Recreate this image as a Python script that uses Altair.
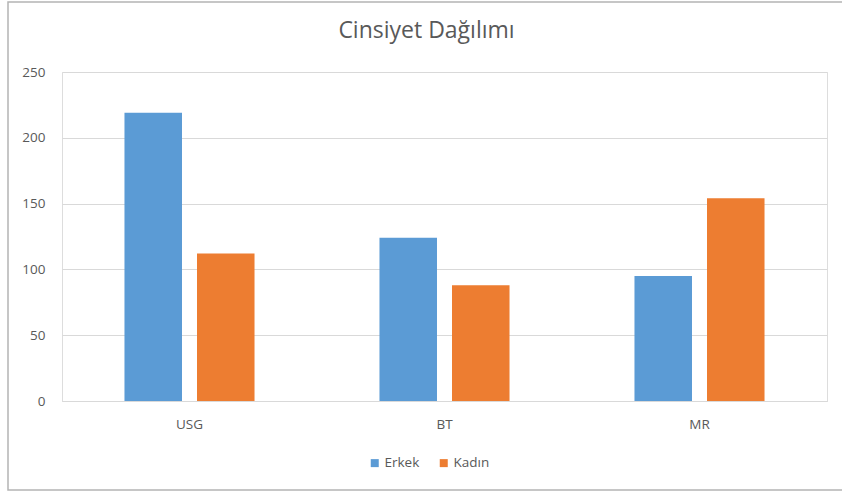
import altair as alt
import pandas as pd

# Cinsiyet dağılımı: her görüntüleme yöntemi için erkek / kadın hasta sayısı
categories = ["USG", "BT", "MR"]
groups = ["Erkek", "Kadın"]
erkek = [219, 124, 95]
kadin = [112, 88, 154]
colors = ["#5B9BD5", "#ED7D31"]
y_ticks = [0, 50, 100, 150, 200, 250]

rows = []
for cat, e, k in zip(categories, erkek, kadin):
    rows.append({"Yöntem": cat, "Cinsiyet": "Erkek", "Sayı": e})
    rows.append({"Yöntem": cat, "Cinsiyet": "Kadın", "Sayı": k})
df = pd.DataFrame(rows)

FONT = "Open Sans"
TEXT = "#595959"
GRID = "#d9d9d9"
LABEL_SIZE = 13.5

bars = alt.Chart(df).mark_bar().encode(
    x=alt.X(
        "Yöntem:N",
        sort=categories,
        title=None,
        scale=alt.Scale(paddingInner=0.49, paddingOuter=0.245),
        axis=alt.Axis(
            labelAngle=0,
            ticks=False,
            domain=True,
            domainColor=GRID,
            grid=False,
            labelPadding=16,
            labelFontSize=LABEL_SIZE,
            labelColor=TEXT,
            labelFont=FONT,
        ),
    ),
    xOffset=alt.XOffset(
        "Cinsiyet:N",
        sort=groups,
        scale=alt.Scale(paddingInner=0.207, paddingOuter=0),
    ),
    y=alt.Y(
        "Sayı:Q",
        title=None,
        scale=alt.Scale(domain=[0, 250], nice=False),
        axis=alt.Axis(
            values=y_ticks,
            ticks=False,
            domain=False,
            gridColor=GRID,
            gridWidth=1,
            labelPadding=17,
            labelFontSize=LABEL_SIZE,
            labelColor=TEXT,
            labelFont=FONT,
        ),
    ),
    color=alt.Color(
        "Cinsiyet:N",
        sort=groups,
        scale=alt.Scale(domain=groups, range=colors),
        legend=alt.Legend(
            title=None,
            orient="none",
            direction="horizontal",
            legendX=306,
            legendY=384,
            symbolType="square",
            symbolSize=64,
            symbolStrokeWidth=0,
            symbolOpacity=1,
            labelFontSize=LABEL_SIZE,
            labelColor=TEXT,
            labelFont=FONT,
            labelOffset=3,
            columnPadding=17,
        ),
    ),
)

# thin grey frame around the whole chart
frame = alt.Chart(pd.DataFrame({"k": [0]})).mark_rect(
    fill=None, stroke="#b4b4b4", strokeWidth=1.5
).encode(
    x=alt.value(-54),
    x2=alt.value(790),
    y=alt.value(-70),
    y2=alt.value(418),
)

chart = alt.layer(frame, bars).properties(
    width=765,
    height=329,
    title=alt.TitleParams(
        "Cinsiyet Dağılımı",
        fontSize=23,
        font=FONT,
        fontWeight="normal",
        color=TEXT,
        anchor="middle",
        baseline="alphabetic",
        dx=-18,
        offset=-60,
    ),
    autosize=alt.AutoSizeParams(type="none"),
    padding={"left": 62, "top": 72, "right": 15, "bottom": 92},
).configure_view(stroke=None).configure(background="white")

chart.save("out.html", embed_options={"renderer": "svg", "actions": False})
